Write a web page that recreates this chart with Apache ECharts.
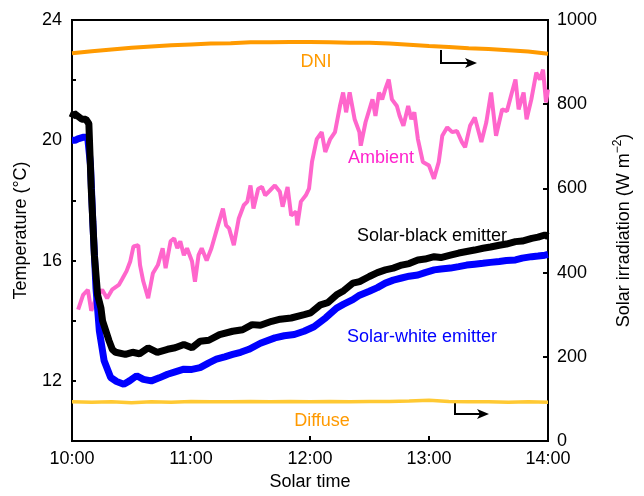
<!DOCTYPE html>
<html>
<head>
<meta charset="utf-8">
<script src="https://cdn.jsdelivr.net/npm/echarts@6/dist/echarts.min.js"></script>
<style>
  html, body { margin: 0; padding: 0; background: #fff; }
  #chart { width: 644px; height: 496px; }
</style>
</head>
<body>
<div id="chart"></div>
<script>
// x values are minutes after 10:00
const timeLabels = ['10:00', '11:00', '12:00', '13:00', '14:00']

// DNI (W m-2), right axis
const dniTime = [0, 10, 20, 30, 40, 50, 60, 70, 80, 90, 100, 110, 120, 130, 140, 150, 160, 170, 180, 190, 200, 210, 220, 230, 240]
const dniValue = [921, 926, 930, 934, 937, 940, 942, 944, 945, 947, 947, 948, 948, 947, 946, 946, 944, 941, 938, 936, 933, 931, 928, 925, 920]

// Diffuse (W m-2), right axis
const diffuseTime = [0, 10, 20, 30, 40, 50, 60, 70, 80, 90, 100, 110, 120, 130, 140, 150, 160, 170, 180, 190, 200, 210, 220, 230, 240]
const diffuseValue = [93, 92, 93, 91, 93, 92, 94, 93, 93, 94, 93, 94, 93, 94, 93, 94, 94, 95, 97, 94, 93, 93, 92, 93, 92]

// Ambient temperature (°C)
const ambientTime = [3.1, 5.6, 8.0, 9.7, 12.1, 15.2, 17.7, 20.2, 23.6, 25.1, 27.5, 29.4, 31.0, 33.4, 34.3, 35.9, 38.4, 40.8, 43.3, 45.7, 47.2, 49.7, 51.5, 53.1, 54.6, 56.4, 58.0, 60.5, 62.0, 63.8, 65.4, 67.9, 70.3, 73.6, 76.1, 77.7, 79.2, 81.6, 84.1, 86.6, 88.4, 90.0, 91.5, 93.9, 95.8, 97.4, 99.8, 102.3, 104.8, 106.2, 108.7, 110.5, 113.0, 113.6, 115.4, 117.9, 119.5, 121.0, 123.4, 125.9, 127.7, 130.2, 132.6, 135.1, 136.7, 138.2, 140.0, 142.5, 144.9, 145.6, 148.0, 151.5, 153.0, 154.8, 156.4, 157.9, 159.7, 161.3, 163.8, 165.2, 167.1, 169.5, 171.1, 172.6, 174.4, 176.9, 180.0, 182.5, 184.9, 186.7, 189.2, 191.7, 194.1, 196.6, 198.2, 200.7, 203.1, 206.4, 208.9, 211.3, 213.8, 216.9, 219.3, 221.8, 223.6, 225.2, 227.7, 229.2, 231.6, 234.1, 235.9, 237.5, 239.0, 240.0]
const ambientTemp = [14.37, 14.86, 15.03, 14.33, 14.75, 15.03, 14.75, 15.03, 15.19, 15.36, 15.65, 15.98, 16.47, 16.51, 15.85, 15.32, 14.75, 15.58, 15.85, 16.41, 15.75, 16.64, 16.74, 16.41, 16.64, 16.18, 16.41, 15.98, 15.3, 16.18, 16.41, 16.0, 16.41, 17.17, 17.73, 17.17, 17.07, 16.51, 17.40, 17.84, 17.96, 18.50, 17.73, 18.39, 18.45, 18.17, 18.33, 18.50, 18.29, 17.79, 18.45, 17.50, 17.63, 17.17, 17.96, 18.17, 18.39, 19.28, 20.04, 20.27, 19.61, 20.04, 20.27, 21.14, 21.59, 20.93, 21.59, 20.70, 20.27, 19.82, 20.60, 21.36, 20.81, 21.59, 21.36, 21.69, 22.02, 21.36, 21.14, 20.81, 20.48, 21.14, 20.70, 20.93, 20.04, 19.28, 19.16, 18.72, 19.28, 20.15, 20.43, 20.27, 20.31, 19.94, 19.77, 20.48, 20.76, 19.94, 20.60, 21.59, 20.15, 21.03, 20.97, 21.59, 22.02, 21.03, 21.59, 20.70, 21.36, 22.25, 22.02, 22.35, 21.26, 21.69]

// Solar-black emitter (°C)
const blackTime = [0, 1, 3, 5, 7, 8.5, 9.7, 11.3, 12.9, 14.6, 15.4, 18.7, 20.3, 22.0, 26.9, 30.5, 34, 38.4, 43, 48.2, 52, 56.4, 60.5, 64.6, 69, 74.4, 81.0, 86, 90.8, 95, 100.7, 105, 110.5, 117.1, 120.3, 125.3, 129, 133.4, 137, 141.6, 145, 149.9, 154, 158.0, 162, 166.2, 170, 174.4, 178, 182.6, 186, 190.8, 195, 199.0, 203, 207.2, 211, 215.4, 219, 223.6, 227, 231.8, 235, 238.4, 240]
const blackTemp = [20.75, 20.9, 20.8, 20.7, 20.7, 20.55, 18.39, 16.18, 14.86, 14.42, 14.0, 13.33, 13.05, 12.95, 12.88, 12.95, 12.9, 13.1, 12.95, 13.05, 13.1, 13.21, 13.1, 13.32, 13.35, 13.54, 13.65, 13.7, 13.87, 13.85, 13.98, 14.05, 14.09, 14.2, 14.26, 14.53, 14.6, 14.86, 15.0, 15.25, 15.3, 15.47, 15.6, 15.69, 15.75, 15.85, 15.9, 16.02, 16.05, 16.13, 16.1, 16.18, 16.25, 16.30, 16.35, 16.41, 16.45, 16.51, 16.55, 16.63, 16.65, 16.74, 16.78, 16.85, 16.8]

// Solar-white emitter (°C)
const whiteTime = [0, 1.5, 3, 5.5, 7.9, 9.3, 10.5, 12.1, 13.8, 16.2, 19.5, 22.5, 26.1, 29, 32.6, 36, 40.0, 44, 48.2, 52, 56.4, 60.5, 64.6, 69, 72.8, 77, 81.0, 85, 89.2, 95, 102.3, 107, 112.1, 117, 122.0, 128, 133.4, 137, 141.6, 145, 149.9, 154, 158.0, 162, 166.2, 170, 174.4, 178, 182.6, 186, 190.8, 195, 199.0, 203, 207.2, 211, 215.4, 219, 223.6, 227, 231.8, 235, 238.4, 240]
const whiteTemp = [20.0, 20.0, 20.05, 20.1, 20.1, 19.2, 17.29, 15.08, 13.66, 12.67, 12.11, 11.98, 11.89, 12.0, 12.17, 12.05, 12.0, 12.1, 12.22, 12.3, 12.39, 12.38, 12.44, 12.6, 12.72, 12.8, 12.88, 12.95, 13.05, 13.25, 13.43, 13.5, 13.54, 13.65, 13.8, 14.1, 14.42, 14.55, 14.70, 14.85, 14.98, 15.1, 15.25, 15.35, 15.42, 15.48, 15.52, 15.6, 15.69, 15.72, 15.75, 15.8, 15.85, 15.88, 15.91, 15.94, 15.97, 16.0, 16.02, 16.08, 16.13, 16.15, 16.18, 16.2]

const zip = (xs, ys) => xs.map((x, i) => [x, ys[i]])

const FONT = 'Liberation Sans'
const axisLine = { show: true, lineStyle: { color: '#000', width: 2 } }

const chart = echarts.init(document.getElementById('chart'))

chart.setOption({
    animation: false,
    textStyle: { fontFamily: FONT },
    grid: {
        left: 72, right: 84, top: 20, bottom: 52,
        show: true, borderColor: '#000', borderWidth: 2
    },
    xAxis: {
        type: 'value',
        min: 0, max: 240, interval: 60,
        name: 'Solar time',
        nameLocation: 'middle',
        nameGap: 32,
        nameTextStyle: { fontSize: 18, color: '#000', fontFamily: FONT },
        axisLine: axisLine,
        axisTick: { inside: true, length: 5, lineStyle: { color: '#000', width: 2 } },
        axisLabel: {
            fontSize: 18, color: '#000', margin: 9,
            formatter: v => timeLabels[v / 60]
        },
        splitLine: { show: false }
    },
    yAxis: [
        {
            type: 'value',
            min: 10, max: 24, interval: 2,
            name: 'Temperature (°C)',
            nameLocation: 'middle',
            nameGap: 42,
            nameTextStyle: { fontSize: 18, color: '#000', fontFamily: FONT },
            axisLine: axisLine,
            axisTick: { inside: true, length: 4, lineStyle: { color: '#000', width: 2 } },
            axisLabel: {
                fontSize: 18, color: '#000', margin: 10,
                formatter: v => (v % 4 === 0 ? String(v) : '')
            },
            splitLine: { show: false }
        },
        {
            type: 'value',
            min: 0, max: 1000, interval: 200,
            position: 'right',
            name: 'Solar irradiation (W m{sup|−2})',
            nameLocation: 'middle',
            nameGap: 64,
            nameRotate: 90,
            nameTextStyle: {
                fontSize: 18, color: '#000', fontFamily: FONT, lineHeight: 24,
                rich: { sup: { fontSize: 12, verticalAlign: 'top', lineHeight: 24, fontFamily: FONT, color: '#000' } }
            },
            axisLine: axisLine,
            axisTick: { inside: true, length: 5, lineStyle: { color: '#000', width: 2 } },
            axisLabel: { fontSize: 18, color: '#000', margin: 9, formatter: v => String(v) },
            splitLine: { show: false }
        }
    ],
    series: [
        {
            name: 'DNI', type: 'line', yAxisIndex: 1, showSymbol: false,
            data: zip(dniTime, dniValue),
            lineStyle: { color: '#FF9A00', width: 4 }
        },
        {
            name: 'Diffuse', type: 'line', yAxisIndex: 1, showSymbol: false,
            data: zip(diffuseTime, diffuseValue),
            lineStyle: { color: '#FFC933', width: 3.5 }
        },
        {
            name: 'Ambient', type: 'line', yAxisIndex: 0, showSymbol: false,
            data: zip(ambientTime, ambientTemp),
            lineStyle: { color: '#FF66CC', width: 4 }
        },
        {
            name: 'Solar-white emitter', type: 'line', yAxisIndex: 0, showSymbol: false,
            data: zip(whiteTime, whiteTemp),
            lineStyle: { color: '#0000FF', width: 7 }
        },
        {
            name: 'Solar-black emitter', type: 'line', yAxisIndex: 0, showSymbol: false,
            data: zip(blackTime, blackTemp),
            lineStyle: { color: '#000000', width: 7 }
        }
    ],
    graphic: [
        { type: 'text', x: 316, y: 62, style: { text: 'DNI', fill: '#FF9A00', font: '18px ' + FONT, align: 'center', verticalAlign: 'middle' } },
        { type: 'text', x: 381, y: 158, style: { text: 'Ambient', fill: '#FF22CC', font: '18px ' + FONT, align: 'center', verticalAlign: 'middle' } },
        { type: 'text', x: 432, y: 236, style: { text: 'Solar-black emitter', fill: '#000', font: '18px ' + FONT, align: 'center', verticalAlign: 'middle' } },
        { type: 'text', x: 422, y: 337, style: { text: 'Solar-white emitter', fill: '#0000FF', font: '18px ' + FONT, align: 'center', verticalAlign: 'middle' } },
        { type: 'text', x: 322, y: 421, style: { text: 'Diffuse', fill: '#FF9A00', font: '18px ' + FONT, align: 'center', verticalAlign: 'middle' } },
        // arrows pointing to the right axis
        { type: 'polyline', shape: { points: [[441, 50], [441, 63], [470, 63]] }, style: { stroke: '#000', lineWidth: 2, fill: null } },
        { type: 'polygon', shape: { points: [[477, 63], [465, 58], [468, 63], [465, 68]] }, style: { fill: '#000' } },
        { type: 'polyline', shape: { points: [[455, 402], [455, 414], [482, 414]] }, style: { stroke: '#000', lineWidth: 2, fill: null } },
        { type: 'polygon', shape: { points: [[489, 414], [477, 409], [480, 414], [477, 419]] }, style: { fill: '#000' } }
    ]
})
</script>
</body>
</html>
